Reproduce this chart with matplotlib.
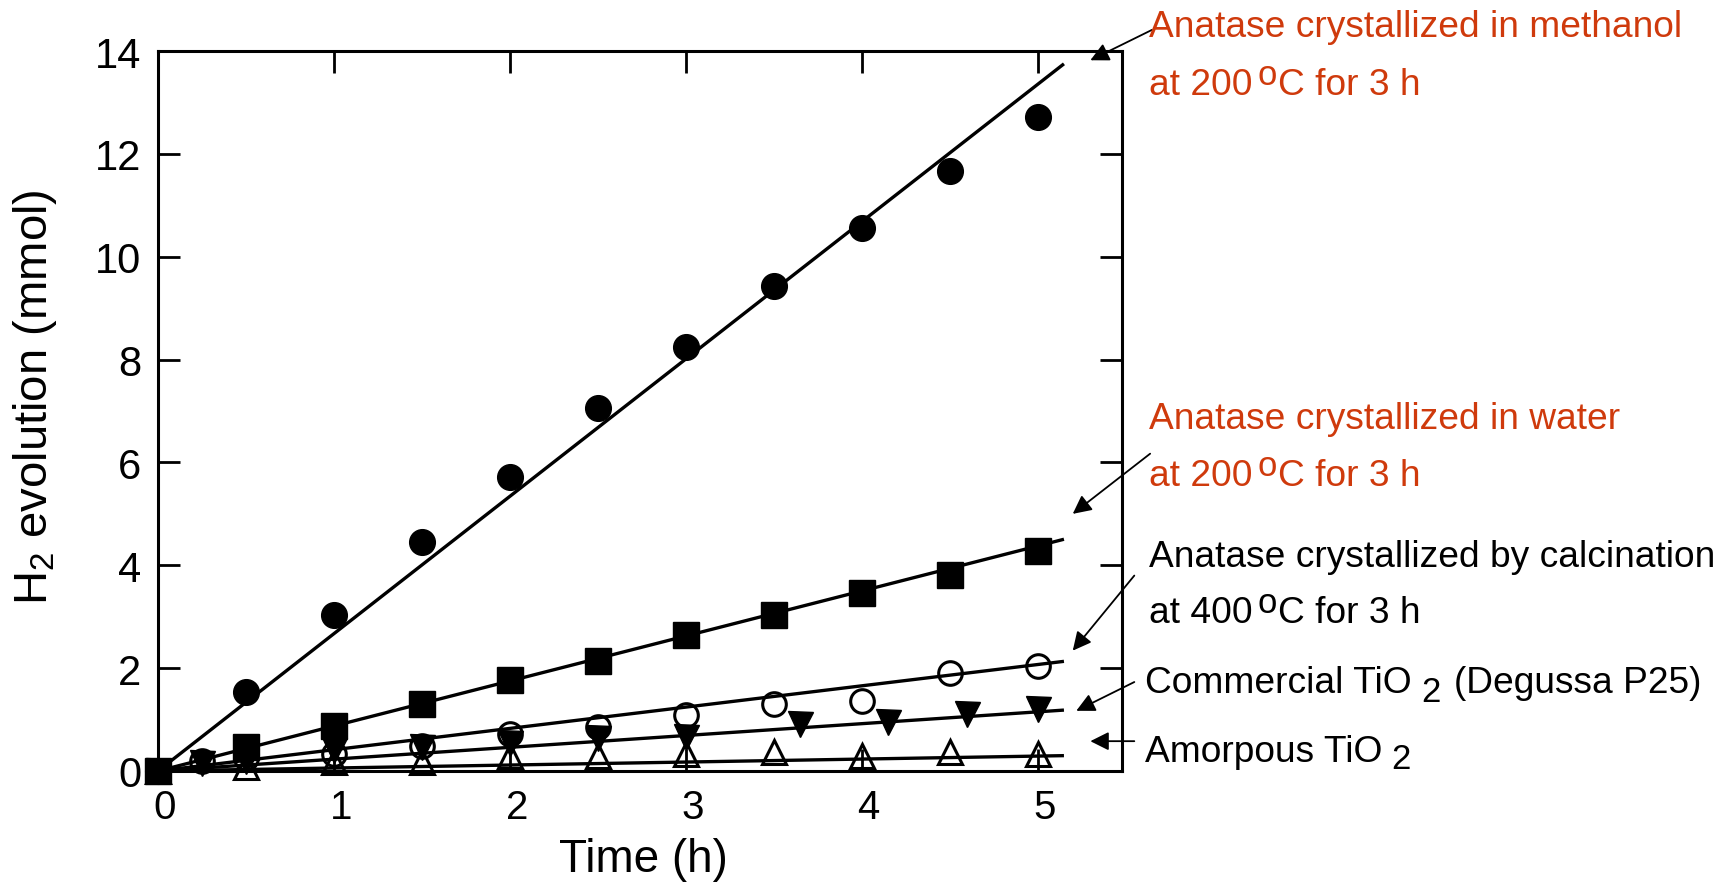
import numpy as np
import matplotlib as mpl
mpl.use('Agg')
import matplotlib.pyplot as plt
import matplotlib.transforms as mtransforms

# H2 evolution vs. time
t_half = [0, 0.5, 1, 1.5, 2, 2.5, 3, 3.5, 4, 4.5, 5]
methanol_y = [0.0, 1.53, 3.03, 4.45, 5.71, 7.05, 8.25, 9.44, 10.56, 11.67, 12.72]
water_y = [0.0, 0.46, 0.88, 1.30, 1.76, 2.13, 2.64, 3.03, 3.46, 3.82, 4.27]
calc_t = [0, 0.25, 0.5, 1, 1.5, 2, 2.5, 3, 3.5, 4, 4.5, 5]
calc_y = [0.0, 0.20, 0.25, 0.33, 0.49, 0.72, 0.85, 1.08, 1.30, 1.37, 1.90, 2.05]
p25_t = [0, 0.25, 0.5, 1, 1.5, 2, 2.5, 3, 3.65, 4.15, 4.6, 5]
p25_y = [0.0, 0.16, 0.20, 0.40, 0.46, 0.55, 0.64, 0.66, 0.92, 0.95, 1.11, 1.21]
amor_t = [0, 0.5, 1, 1.5, 2, 2.5, 3, 3.5, 4, 4.5, 5]
amor_y = [0.0, 0.07, 0.17, 0.17, 0.30, 0.30, 0.33, 0.36, 0.29, 0.36, 0.33]

# slopes of the straight fit lines (mmol/h), drawn from t=0 to t_end
fit_slope = [2.67, 0.875, 0.414, 0.23, 0.058]
t_end = 5.15

# label pieces: (text, shift down in px, fontsize, gap before in px)
fs = 26.7
deg_200 = [('at 200', 0, fs, 0), ('o', -10, 25, 5), ('C for 3 h', 0, fs, 1)]
deg_400 = [('at 400', 0, fs, 0), ('o', -10, 25, 5), ('C for 3 h', 0, fs, 1)]
labels = [
    [[('Anatase crystallized in methanol', 0, fs, 0)], deg_200],
    [[('Anatase crystallized in water', 0, fs, 0)], deg_200],
    [[('Anatase crystallized by calcination', 0, fs, 0)], deg_400],
    [[('Commercial TiO', 0, fs, 0), ('2', 9, 25, 10), ('(Degussa P25)', 0, fs, 13)]],
    [[('Amorpous TiO', 0, fs, 0), ('2', 7, 25, 9)]],
]
label_colors = ['#CF3A0C', '#CF3A0C', 'black', 'black', 'black']
# arrow tip / tail in data units
arrow_tip = [(5.30, 13.82), (5.20, 5.00), (5.20, 2.34), (5.22, 1.17), (5.30, 0.58)]
arrow_tail = [(5.65, 14.41), (5.64, 6.17), (5.55, 3.80), (5.55, 1.73), (5.55, 0.58)]
# text placement in figure pixels (left x, baselines)
text_x = [1149, 1149, 1149, 1145, 1145]
text_base = [[37, 95], [429, 486], [567, 623], [693], [762]]

plt.rc('font', family='Liberation Sans')
plt.rc('mathtext', fontset='custom', rm='Liberation Sans', it='Liberation Sans:italic')

W, H = 1733, 887
fig = plt.figure(figsize=(W / 100, H / 100), dpi=100)
ax = fig.add_axes([158 / W, 1 - 772 / H, (1122 - 158) / W, (772 - 52) / H])

lw = 2.4
tt = np.array([0, t_end])
for s in fit_slope:
    ax.plot(tt, s * tt, color='black', lw=lw, solid_capstyle='butt', zorder=2)

mk = dict(color='black', ls='none', clip_on=False, zorder=3)
ax.plot(amor_t, amor_y, marker='^', ms=17, mew=2.2, fillstyle='none', **mk)
ax.plot(p25_t, p25_y, marker='v', ms=18, mew=1, **mk)
ax.plot(calc_t, calc_y, marker='o', ms=17, mew=2.2, fillstyle='none', **mk)
ax.plot(t_half, methanol_y, marker='o', ms=18.5, mew=1, **mk)
ax.plot(t_half, water_y, marker='s', ms=18.5, mew=1, **mk)

ax.set_xlim(0, 5.48)
ax.set_ylim(0, 14)
ax.set_xticks(range(6))
ax.set_yticks(range(0, 15, 2))
for sp in ax.spines.values():
    sp.set_linewidth(2.2)
ax.tick_params(direction='in', length=16, width=2, top=True, right=True)
ax.tick_params(axis='y', pad=12, labelsize=30)
ax.tick_params(axis='x', pad=12, labelsize=29)
shift = mtransforms.ScaledTranslation(7 / 100, 0, fig.dpi_scale_trans)
for lab in ax.get_xticklabels():
    lab.set_transform(lab.get_transform() + shift)

ax.set_xlabel('Time (h)', fontsize=33, va='center')
ax.xaxis.set_label_coords(0.504, -0.122)
ax.set_ylabel('H$_{\\mathrm{2}}$ evolution (mmol)', fontsize=34, va='center')
ax.yaxis.set_label_coords(-0.128, 0.52)

for tip, tail in zip(arrow_tip, arrow_tail):
    ax.annotate('', xy=tip, xytext=tail, xycoords='data', textcoords='data',
                annotation_clip=False,
                arrowprops=dict(arrowstyle='-|>', color='black', lw=1.3,
                                mutation_scale=28, shrinkA=0, shrinkB=0))

renderer = fig.canvas.get_renderer()
for lines, col, x0, bases in zip(labels, label_colors, text_x, text_base):
    for parts, b in zip(lines, bases):
        x = x0
        for s, dy, size, gap in parts:
            x += gap
            t = fig.text(x / W, 1 - (b + dy) / H, s, color=col, fontsize=size,
                         ha='left', va='baseline')
            x += t.get_window_extent(renderer).width

fig.savefig('out.png', dpi=100)
